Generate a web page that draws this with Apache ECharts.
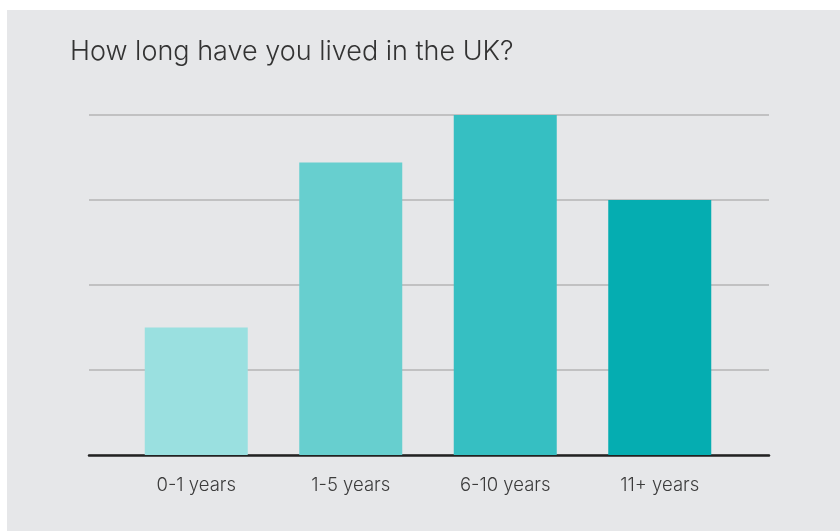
<!DOCTYPE html>
<html>
<head>
<meta charset="utf-8">
<script src="https://cdn.jsdelivr.net/npm/echarts@6/dist/echarts.min.js"></script>
<style>
  html, body { margin: 0; padding: 0; background: #ffffff; }
  #main { position: absolute; left: 7px; top: 10px; width: 833px; height: 521px; background: #e6e7e9; }
</style>
</head>
<body>
<div id="main"></div>
<script>
var categories = ['0-1 years', '1-5 years', '6-10 years', '11+ years'];
var values = [15, 34.4, 40, 30];
var colors = ['#9ae0e0', '#67cfcf', '#36bfc2', '#05adb1'];

var myChart = echarts.init(document.getElementById('main'));
var option = {
    backgroundColor: '#e6e7e9',
    animation: false,
    title: {
        text: 'How long have you lived in the UK?',
        left: 58,
        top: 23,
        textStyle: {
            fontFamily: 'Inter',
            fontWeight: 300,
            fontSize: 27,
            color: '#333333'
        }
    },
    grid: [
        { left: 82, right: 71, top: 105, bottom: 76 },
        { left: 112, right: 103, top: 105, bottom: 76 }
    ],
    xAxis: [
        {
            type: 'category',
            gridIndex: 0,
            data: categories,
            axisLine: { lineStyle: { color: '#222222', width: 2.5 } },
            axisTick: { show: false },
            axisLabel: { show: false }
        },
        {
            type: 'category',
            gridIndex: 1,
            data: categories,
            axisLine: { show: false },
            axisTick: { show: false },
            axisLabel: {
                margin: 21,
                fontFamily: 'Inter',
                fontWeight: 300,
                fontSize: 18.5,
                color: '#3c3c3c'
            }
        }
    ],
    yAxis: [
        {
            type: 'value',
            gridIndex: 0,
            min: 0,
            max: 40,
            interval: 10,
            axisLabel: { show: false },
            axisLine: { show: false },
            axisTick: { show: false },
            splitLine: { lineStyle: { color: '#b4b4b4', width: 1.5 } }
        },
        {
            type: 'value',
            gridIndex: 1,
            min: 0,
            max: 40,
            interval: 10,
            show: false
        }
    ],
    series: [
        {
            type: 'bar',
            xAxisIndex: 1,
            yAxisIndex: 1,
            barWidth: 103,
            data: values.map(function (v, i) {
                return { value: v, itemStyle: { color: colors[i] } };
            })
        }
    ]
};
myChart.setOption(option);
</script>
</body>
</html>
